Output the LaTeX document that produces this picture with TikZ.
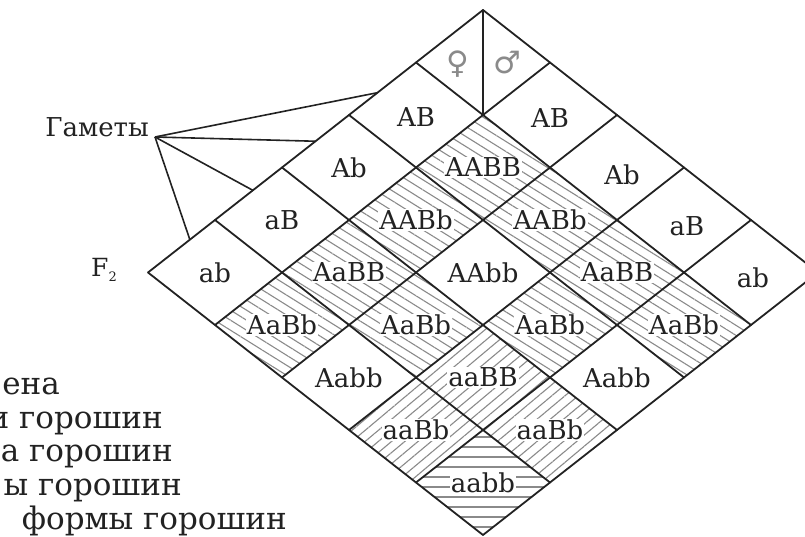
\documentclass[tikz,border=0pt]{standalone}
\usepackage{fontspec}
\setmainfont{DejaVu Serif}
\newfontfamily\symfont{DejaVu Sans}
\usetikzlibrary{patterns.meta,calc}
\definecolor{ink}{HTML}{222222}
\definecolor{hatch}{HTML}{8A8A8A}
\definecolor{sexcol}{HTML}{8A8A8A}
\begin{document}
\begin{tikzpicture}[x=1pt,y=1pt,
  gridline/.style={draw=ink, line width=1.8pt, line cap=round},
  gt/.style={font=\fontsize{26}{28}\selectfont, text=ink, fill=white, inner sep=1pt},
  gam/.style={font=\fontsize{26}{28}\selectfont, text=ink, inner sep=0pt},
  hatchA/.style={pattern={Lines[angle=-32,distance=8.5pt,line width=1.1pt]}, pattern color=hatch},
  hatchB/.style={pattern={Lines[angle=40,distance=8.5pt,line width=1.1pt]}, pattern color=hatch},
  hatchC/.style={pattern={Lines[angle=0,distance=10pt,line width=1.1pt]}, pattern color=hatch},
  legend/.style={font=\fontsize{31}{33}\selectfont, text=ink, inner sep=0pt},
  conn/.style={draw=ink, line width=1.6pt},
  sexsym/.style={font=\symfont\fontsize{31}{33}\selectfont, text=sexcol, inner sep=0pt}]
\useasboundingbox (0,0) rectangle (805,537);
\foreach \i in {0,...,5}{\foreach \j in {0,...,5}{
  \coordinate (p\i\j) at ({483-67*\i+67*\j},{527-52.5*\i-52.5*\j});
  \coordinate (c\i\j) at ({483-67*(\i+0.5)+67*(\j+0.5)},{527-52.5*(\i+\j+1)});
}}
% hatching
\foreach \i/\j in {1/1,2/1,1/2,3/1,1/3,4/1,3/2,2/3,1/4}{
  \pgfmathtruncatemacro\ii{\i+1}\pgfmathtruncatemacro\jj{\j+1}
  \fill[hatchA] (p\i\j) -- (p\ii\j) -- (p\ii\jj) -- (p\i\jj) -- cycle;}
\foreach \i/\j in {3/3,4/3,3/4}{
  \pgfmathtruncatemacro\ii{\i+1}\pgfmathtruncatemacro\jj{\j+1}
  \fill[hatchB] (p\i\j) -- (p\ii\j) -- (p\ii\jj) -- (p\i\jj) -- cycle;}
\fill[hatchC] (p44) -- (p54) -- (p55) -- (p45) -- cycle;
% grid
\foreach \k in {0,...,5}{
  \draw[gridline] (p\k0) -- (p\k5);
  \draw[gridline] (p0\k) -- (p5\k);}
\draw[gridline] (p00) -- (p11);
% sex symbols
\node[sexsym] (fem) at (458,473) {♀};
\node[sexsym] (male) at (507,474) {♂};
% gametes
\node[gam] (gl1) at ($(c10)+(0,-2)$) {AB};
\node[gam] (gl2) at (c20) {Ab};
\node[gam] (gl3) at (c30) {aB};
\node[gam] (gl4) at (c40) {ab};
\node[gam] (gr1) at ($(c01)+(0,-3)$) {AB};
\node[gam] (gr2) at ($(c02)+(5,-7)$) {Ab};
\node[gam] (gr3) at ($(c03)+(3,-6)$) {aB};
\node[gam] (gr4) at ($(c04)+(2,-5)$) {ab};
% genotypes
\node[gt] (z11) at (c11) {AABB};
\node[gt] (z21) at (c21) {AABb};
\node[gt] (z12) at (c12) {AABb};
\node[gt] (z31) at (c31) {AaBB};
\node[gt] (z22) at (c22) {AAbb};
\node[gt] (z13) at (c13) {AaBB};
\node[gt] (z41) at (c41) {AaBb};
\node[gt] (z32) at (c32) {AaBb};
\node[gt] (z23) at (c23) {AaBb};
\node[gt] (z14) at (c14) {AaBb};
\node[gt] (z42) at (c42) {Aabb};
\node[gt] (z33) at (c33) {aaBB};
\node[gt] (z24) at (c24) {Aabb};
\node[gt] (z43) at (c43) {aaBb};
\node[gt] (z34) at (c34) {aaBb};
\node[gt] (z44) at (c44) {aabb};
% Gametes label and connectors
\node[gam, anchor=base east] (gamety) at (149,400) {Гаметы};
\coordinate (g0) at (155,400);
\coordinate (e1) at ($(p00)!0.315!(p50)$);
\coordinate (e2) at ($(p00)!0.5!(p50)$);
\coordinate (e3) at ($(p00)!0.687!(p50)$);
\coordinate (e4) at ($(p00)!0.875!(p50)$);
\foreach \k in {1,...,4}{\draw[conn] (g0) -- (e\k);}
% F2
\node[font=\fontsize{25}{27}\selectfont, text=ink, inner sep=0pt, anchor=base west] (ftwo) at (91,260) {F\raisebox{-5pt}{\fontsize{13}{13}\selectfont 2}};
% legend fragments (cropped at left)
\node[legend, anchor=base east] (l1) at (60,142) {ена};
\node[legend, anchor=base east] (l2) at (163,108) {и горошин};
\node[legend, anchor=base east] (l3) at (173,75) {а горошин};
\node[legend, anchor=base east] (l4) at (182,41) {ы горошин};
\node[legend, anchor=base east] (l5) at (287,7) {формы горошин};
\end{tikzpicture}
\end{document}
